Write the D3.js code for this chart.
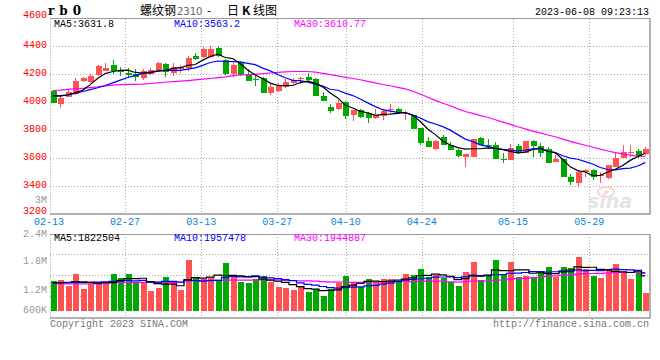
<!DOCTYPE html>
<html><head><meta charset="utf-8">
<script src="https://cdn.jsdelivr.net/npm/d3@7"></script>
<style>
html,body{margin:0;padding:0;background:#fff;}
svg{display:block;}
text{font-family:"Liberation Mono","DejaVu Sans Mono",monospace;font-size:10px;}
</style></head><body>
<svg id="c" width="660" height="360"></svg>
<script>
// ---- data (daily K-line, rb0 螺纹钢2310) ----
const opens = [4079,3986,4038,4055,4152,4145,4193,4224,4264,4226,
4207,4198,4174,4202,4229,4269,4210,4236,4245,4329,
4319,4324,4388,4300,4200,4276,4198,4167,4169,4062,
4079,4105,4135,4164,4178,4167,4045,3967,3948,3998,
3907,3943,3919,3888,3900,3943,3950,3912,3907,3817,
3721,3664,3748,3693,3657,3609,3609,3745,3695,3693,
3590,3586,3686,3633,3724,3688,3664,3569,3593,3467,
3424,3502,3514,3469,3455,3538,3602,3636,3650,3629];
const highs = [4085,4050,4090,4169,4181,4200,4264,4281,4300,4248,
4241,4236,4233,4245,4283,4276,4281,4262,4331,4350,
4395,4400,4400,4305,4281,4288,4233,4186,4181,4126,
4138,4162,4174,4176,4205,4174,4074,3986,4014,4007,
3945,3952,3931,3950,3943,3986,3955,3936,3910,3817,
3752,3728,3764,3712,3664,3630,3738,3752,3736,3716,
3633,3698,3698,3721,3728,3705,3676,3621,3593,3483,
3514,3521,3519,3502,3550,3633,3693,3693,3664,3681];
const lows = [3990,3960,4033,4050,4145,4138,4188,4224,4198,4188,
4169,4152,4157,4195,4222,4176,4188,4205,4222,4298,
4315,4314,4319,4193,4181,4188,4152,4117,4067,4050,
4074,4098,4126,4128,4152,4040,4010,3919,3943,3876,
3867,3883,3850,3876,3871,3919,3912,3871,3805,3693,
3681,3657,3690,3657,3609,3538,3607,3690,3662,3590,
3562,3586,3628,3633,3609,3609,3562,3569,3462,3407,
3390,3462,3443,3424,3450,3538,3598,3609,3598,3624];
const closes = [3995,4031,4074,4152,4174,4188,4257,4245,4224,4216,
4193,4176,4224,4229,4279,4217,4252,4248,4314,4307,
4376,4378,4331,4200,4264,4193,4152,4154,4067,4107,
4114,4145,4157,4172,4157,4043,4010,3938,3995,3900,
3943,3890,3888,3905,3934,3950,3919,3919,3807,3709,
3681,3721,3693,3660,3614,3628,3736,3693,3690,3593,
3586,3674,3638,3721,3688,3633,3562,3593,3467,3431,
3498,3512,3462,3476,3550,3602,3645,3640,3617,3664];
// volume in thousands of lots
const volumesK = [1554,1606,1313,1917,1140,1434,1434,1434,1917,1693,
1917,1434,1520,1036,1174,1779,1468,1088,2642,1693,
1641,1693,1606,2504,1779,1520,1468,1658,1813,1520,
1244,1174,1088,1295,1002,1123,777,1123,1468,1813,
1503,1261,1641,1520,1658,1658,1520,1917,1865,2176,
1744,1865,1693,1520,1313,2021,2539,1606,1831,2642,
1865,2539,1779,1813,1779,2003,2297,1779,2297,2245,
2815,2159,1813,1727,2124,2435,2038,1658,2038,950];
// moving averages as shown on the chart
const ma5 = [4045,4042,4052,4066,4085,4124,4169,4203,4218,4226,
4227,4211,4207,4208,4220,4225,4240,4245,4262,4268,
4299,4325,4341,4318,4310,4273,4228,4193,4166,4135,
4119,4117,4118,4139,4149,4135,4108,4064,4029,3977,
3957,3933,3923,3905,3912,3913,3919,3925,3906,3861,
3807,3767,3722,3693,3674,3663,3666,3666,3672,3668,
3660,3647,3636,3642,3661,3671,3648,3639,3589,3537,
3510,3500,3474,3476,3500,3520,3547,3583,3611,3634];
const ma10 = [4043,4045,4050,4062,4075,4088,4102,4118,4137,4156,
4175,4190,4205,4213,4223,4226,4226,4226,4235,4244,
4262,4282,4293,4290,4289,4286,4276,4267,4242,4222,
4196,4173,4155,4153,4142,4127,4113,4091,4084,4063,
4046,4021,3994,3967,3945,3935,3926,3924,3906,3886,
3860,3843,3824,3799,3767,3735,3717,3694,3683,3671,
3661,3657,3651,3657,3665,3665,3648,3638,3616,3599,
3591,3574,3557,3532,3518,3515,3524,3528,3543,3567];
const ma30 = [4082,4085,4090,4094,4098,4103,4108,4115,4120,4124,
4126,4126,4128,4132,4136,4141,4145,4149,4153,4158,
4163,4168,4174,4180,4188,4193,4196,4199,4202,4207,
4211,4215,4218,4218,4218,4213,4205,4195,4187,4176,
4168,4159,4147,4137,4125,4116,4105,4094,4077,4057,
4034,4012,3991,3973,3951,3932,3919,3903,3891,3873,
3856,3840,3823,3808,3792,3779,3764,3752,3735,3719,
3704,3691,3677,3663,3650,3639,3629,3620,3614,3612];
const vma5K = [1460,1470,1490,1520,1506,1482,1448,1472,1472,1582,
1679,1679,1696,1520,1416,1389,1395,1309,1630,1734,
1706,1751,1855,1827,1845,1820,1775,1786,1648,1596,
1541,1482,1368,1264,1161,1136,1057,1064,1099,1261,
1337,1434,1537,1548,1517,1548,1599,1655,1724,1827,
1844,1913,1869,1800,1627,1682,1817,1800,1862,2128,
2097,2097,2131,2128,1955,1983,1934,1934,2031,2124,
2287,2259,2266,2152,2128,2052,2027,1996,2059,1824];
const vma10K = [1460,1460,1450,1470,1470,1480,1500,1510,1530,1544,
1581,1563,1584,1496,1499,1534,1537,1503,1575,1575,
1548,1573,1582,1729,1789,1763,1763,1820,1738,1720,
1681,1629,1577,1456,1378,1339,1269,1216,1181,1211,
1237,1245,1301,1323,1389,1442,1517,1596,1636,1672,
1696,1756,1762,1762,1727,1763,1865,1834,1831,1877,
1890,1957,1966,1995,2041,2040,2015,2033,2079,2040,
2135,2097,2100,2091,2126,2169,2143,2131,2105,1976];
const vma30K = [1400,1400,1400,1400,1400,1400,1400,1400,1480,1480,
1480,1480,1480,1480,1480,1480,1480,1480,1590,1590,
1590,1590,1590,1590,1600,1600,1600,1600,1605,1613,
1603,1588,1581,1560,1556,1545,1523,1513,1498,1502,
1488,1482,1486,1503,1519,1515,1516,1544,1518,1534,
1538,1543,1546,1514,1498,1515,1550,1549,1549,1587,
1607,1653,1676,1693,1719,1748,1799,1821,1849,1863,
1907,1937,1942,1949,1965,1991,2008,1999,2005,1964];
const dateLabels = ["02-13","02-27","03-13","03-27","04-10","04-24","05-15","05-29"];
const dateIdx = [0,10,20,30,39,49,61,71];
const priceTicks = [4600,4400,4200,4000,3800,3600,3400,3200];
const volTickLabels = ["3M","2.4M","1.8M","1.2M","600K"];
const volTickValuesK = [3000,2400,1800,1200,600];
const priceLegend = ["MA5:3631.8","MA10:3563.2","MA30:3610.77"];
const volLegend = ["MA5:1822504","MA10:1957478","MA30:1944887"];

// ---- layout ----
const svg = d3.select('#c');
const L = 50, R = 650;
const vTop = 234, vBot = 318, vBase = 311;
const RED = "#ff5252", GREEN = "#00a800", GRID = "#aaaaaa", BORDER = "#999999";
const n = closes.length;
const x = d3.scaleBand().domain(d3.range(n)).range([49, 649]);
const cx = i => x(i) + x.bandwidth()/2;
const gx = d3.scaleLinear().domain([0, n-1]).range([49, 650]);
const y = d3.scaleLinear().domain([3200, 4600]).range([214, 18]);
const yv = d3.scaleLinear().domain([0, 4000]).range([vBase, 233.8]);
const yvLab = d3.scaleLinear().domain([3000, 2400, 1800, 1200, 600]).range([200, 234, 261, 290.7, 310]);
const px = v => Math.round(v) + 0.5;

const g = svg.append('g');
// grid - price panel
priceTicks.slice(1, -1).forEach(t => {
  g.append('line').attr('x1', L).attr('x2', R).attr('y1', px(y(t))).attr('y2', px(y(t)))
   .attr('stroke', GRID).attr('stroke-dasharray', '1,2');
});
dateIdx.slice(1).forEach(i => {
  g.append('line').attr('x1', px(gx(i))).attr('x2', px(gx(i))).attr('y1', 19).attr('y2', 214)
   .attr('stroke', GRID).attr('stroke-dasharray', '1,2');
  g.append('line').attr('x1', px(gx(i))).attr('x2', px(gx(i))).attr('y1', vTop).attr('y2', vBot)
   .attr('stroke', GRID).attr('stroke-dasharray', '1,2');
});
// grid - volume panel (quarters)
const vq = d3.scaleLinear().domain([0, 4]).range([vTop, vBot]);
[1,2,3].forEach(k => {
  g.append('line').attr('x1', L).attr('x2', R).attr('y1', px(vq(k)-1)).attr('y2', px(vq(k)-1))
   .attr('stroke', GRID).attr('stroke-dasharray', '1,2');
});
// borders
function panel(top, bot) {
  g.append('line').attr('x1', L).attr('x2', R).attr('y1', top).attr('y2', top).attr('stroke', BORDER);
  g.append('line').attr('x1', L).attr('x2', R+0.5).attr('y1', bot).attr('y2', bot).attr('stroke', BORDER).attr('stroke-width', 1.5);
  g.append('line').attr('x1', px(L)).attr('x2', px(L)).attr('y1', top).attr('y2', bot).attr('stroke', BORDER).attr('stroke-dasharray', '1,2');
  g.append('line').attr('x1', R).attr('x2', R).attr('y1', top).attr('y2', bot).attr('stroke', BORDER).attr('stroke-width', 1.5);
}
panel(18.5, 214);
panel(vTop + 0.5, vBot);

// watermark
const wm = g.append('g').attr('opacity', 0.55);
wm.append('ellipse').attr('cx', 606).attr('cy', 192).attr('rx', 8).attr('ry', 5).attr('fill', 'none').attr('stroke', '#f6b4b4').attr('stroke-width', 2);
wm.append('circle').attr('cx', 606).attr('cy', 192).attr('r', 2).attr('fill', '#f6b4b4');
wm.append('text').attr('x', 588).attr('y', 208).text('sina')
  .style('font-family', 'DejaVu Sans').style('font-size', '19px').style('font-weight', 'bold').style('font-style', 'italic').attr('fill', '#cfcfcf');

// candles
const cg = g.append('g').attr('shape-rendering', 'crispEdges');
d3.range(n).forEach(i => {
  const up = closes[i] >= opens[i];
  const col = up ? RED : GREEN;
  const c = Math.round(cx(i));
  cg.append('line').attr('x1', c + 0.5).attr('x2', c + 0.5)
    .attr('y1', y(highs[i])).attr('y2', y(lows[i])).attr('stroke', col);
  const top = y(Math.max(opens[i], closes[i])), bot = y(Math.min(opens[i], closes[i]));
  cg.append('rect').attr('x', c - 2.5).attr('width', 6)
    .attr('y', top).attr('height', Math.max(1, bot - top)).attr('fill', col);
});
// MA lines price
const line = d3.line().x((d, i) => cx(i)).y(d => y(d));
[[ma30, '#ff00ff'], [ma10, '#0000ff'], [ma5, '#000000']].forEach(([arr, col]) => {
  g.append('path').attr('d', line(arr)).attr('fill', 'none').attr('stroke', col).attr('stroke-width', 1.2);
});

// volume bars
const vg = g.append('g').attr('shape-rendering', 'crispEdges');
volumesK.forEach((v, i) => {
  const up = closes[i] >= opens[i];
  const c = Math.round(cx(i));
  vg.append('rect').attr('x', c - 2.5).attr('width', 6)
    .attr('y', yv(v)).attr('height', vBase - yv(v)).attr('fill', up ? RED : GREEN);
});
const vline = d3.line().x((d, i) => cx(i)).y(d => yv(d)).curve(d3.curveStep);
[[vma30K, '#ff00ff'], [vma10K, '#0000ff'], [vma5K, '#000000']].forEach(([arr, col]) => {
  g.append('path').attr('d', vline(arr)).attr('fill', 'none').attr('stroke', col).attr('stroke-width', 1.2);
});

// axis labels
priceTicks.forEach((t, k) => {
  const off = k === 0 ? 2.5 : (k === priceTicks.length - 1 ? 3 : 1);
  g.append('text').attr('x', 47).attr('y', y(t) - off).attr('text-anchor', 'end')
   .attr('dominant-baseline', 'central').attr('fill', '#ff0000').text(t);
});
volTickLabels.forEach((t, k) => {
  g.append('text').attr('x', 47).attr('y', yvLab(volTickValuesK[k])).attr('text-anchor', 'end')
   .attr('dominant-baseline', 'central').attr('fill', '#999999').text(t);
});
dateLabels.forEach((t, k) => {
  g.append('text').attr('x', gx(dateIdx[k])).attr('y', 222.5).attr('text-anchor', 'middle')
   .attr('dominant-baseline', 'central').attr('fill', '#0a84d6').text(t);
});

// legends
const legX = [54, 174, 294], legC = ['#000000', '#0000ff', '#ff00ff'];
priceLegend.forEach((t, k) => g.append('text').attr('x', legX[k]).attr('y', 24.5).attr('dominant-baseline', 'central').attr('fill', legC[k]).text(t));
volLegend.forEach((t, k) => g.append('text').attr('x', legX[k]).attr('y', 238.5).attr('dominant-baseline', 'central').attr('fill', legC[k]).text(t));

// header
g.append('text').attr('x', 48).attr('y', 15).text('rb0')
  .style('font-family', '"DejaVu Serif",serif').style('font-size', '12px').style('font-weight', 'bold').style('letter-spacing', '5px').attr('fill', '#000');
const title = g.append('text').attr('y', 15).style('font-family', '"Noto Sans CJK SC",sans-serif').style('font-size', '12px').attr('fill', '#000');
title.append('tspan').attr('x', 140).text('螺纹钢');
title.append('tspan').attr('x', 177).text('2310').attr('fill', '#666').style('font-family', '"DejaVu Sans",sans-serif').style('font-size', '10px');
title.append('tspan').attr('x', 207).text('-');
title.append('tspan').attr('x', 227).text('日');
title.append('tspan').attr('x', 242).text('K').style('font-weight', 'bold');
title.append('tspan').attr('x', 253).text('线图');
g.append('text').attr('x', 649).attr('y', 15).attr('text-anchor', 'end').attr('fill', '#000').text('2023-06-08 09:23:13');

// footer
g.append('text').attr('x', 50).attr('y', 327).attr('fill', '#777').text('Copyright 2023 SINA.COM');
g.append('text').attr('x', 649).attr('y', 327).attr('text-anchor', 'end').attr('fill', '#777').text('http://finance.sina.com.cn');
</script>
</body></html>
